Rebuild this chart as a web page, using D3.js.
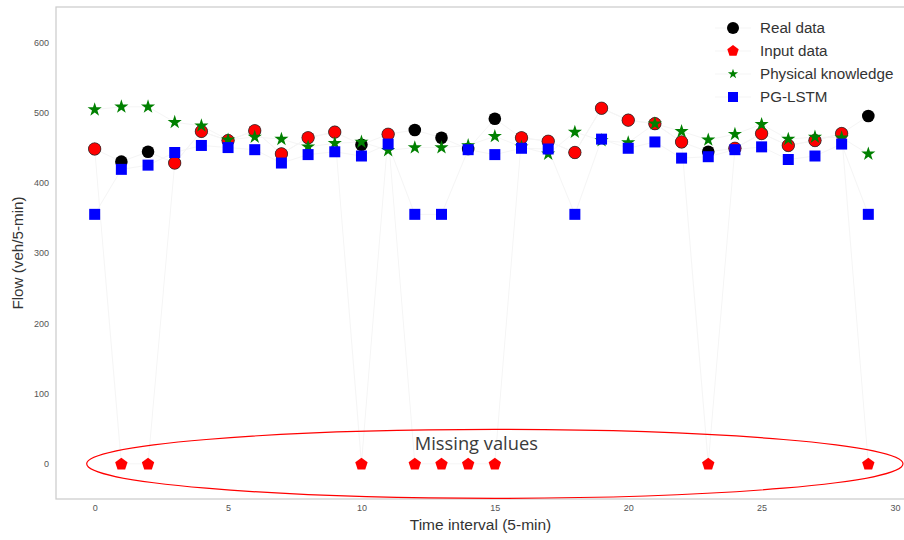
<!DOCTYPE html>
<html>
<head>
<meta charset="utf-8">
<script src="https://cdn.jsdelivr.net/npm/d3@7"></script>
<style>
  html, body { margin: 0; padding: 0; background: #fff; }
  svg { display: block; }
</style>
</head>
<body>
<svg id="chart" width="904" height="540"></svg>
<script>
// Time steps (5-min intervals)
const timeSteps = d3.range(0, 30);

// Observed flow (veh/5-min)
const realData = [448, 430, 444, 428, 473, 460, 474, 441, 464, 472,
                  454, 469, 475, 464, 448, 491, 464, 459, 443, 506,
                  489, 484, 458, 444, 449, 470, 453, 460, 470, 495];

// Indices where the input is missing (recorded as 0)
const missingIdx = [1, 2, 10, 12, 13, 14, 15, 23, 29];

// Input data: observed values with gaps set to 0
const inputData = realData.map((v, i) => missingIdx.includes(i) ? 0 : v);

// Physical-knowledge estimate
const physicalData = [504, 508, 508, 486, 481, 461, 465, 462, 451, 456,
                      458, 446, 450, 450, 453, 466, 451, 441, 472, 460,
                      457, 484, 473, 461, 469, 483, 462, 465, 464, 441];

// PG-LSTM prediction
const pglstmData = [355, 419, 425, 443, 453, 450, 447, 428, 440, 444,
                    438, 455, 355, 355, 447, 440, 449, 448, 355, 462,
                    449, 458, 435, 437, 447, 451, 433, 438, 455, 355];

const xTicks = [0, 5, 10, 15, 20, 25, 30];
const yTicks = [0, 100, 200, 300, 400, 500, 600];

const legendLabels = ["Real data", "Input data", "Physical knowledge", "PG-LSTM"];

const svg = d3.select("#chart");
const plotL = 56, plotR = 907, plotT = 7, plotB = 499;

const x = d3.scaleLinear().domain([-1.45, 30.45]).range([plotL, plotR]);
const y = d3.scaleLinear().domain([-50, 650]).range([plotB, plotT]);

const tickFont = "'Liberation Sans', Arial, sans-serif";
const faint = "#f5f5f5";

// Frame
svg.append("rect")
  .attr("x", plotL).attr("y", plotT)
  .attr("width", plotR - plotL).attr("height", plotB - plotT)
  .attr("fill", "none").attr("stroke", "#cccccc").attr("stroke-width", 1.25);

// Axes (no tick marks, labels only)
const xAxis = svg.append("g")
  .attr("transform", `translate(0,${plotB})`)
  .call(d3.axisBottom(x).tickValues(xTicks).tickSize(0).tickPadding(6));
const yAxis = svg.append("g")
  .attr("transform", `translate(${plotL},0)`)
  .call(d3.axisLeft(y).tickValues(yTicks).tickSize(0).tickPadding(7));
[xAxis, yAxis].forEach(g => {
  g.select(".domain").remove();
  g.selectAll("text")
    .attr("fill", "#555").style("font-family", tickFont).style("font-size", "9px");
});

// Axis titles
svg.append("text")
  .attr("x", (plotL + plotR) / 2 - 1).attr("y", 530)
  .attr("text-anchor", "middle")
  .style("font-family", tickFont).style("font-size", "15.5px").attr("fill", "#333")
  .text("Time interval (5-min)");
svg.append("text")
  .attr("transform", `translate(23,${(plotT + plotB) / 2}) rotate(-90)`)
  .attr("text-anchor", "middle")
  .style("font-family", tickFont).style("font-size", "15.2px").attr("fill", "#333")
  .text("Flow (veh/5-min)");

// Connecting lines for each series (very faint)
const line = d3.line().x((d, i) => x(timeSteps[i])).y(d => y(d));
[realData, inputData, physicalData, pglstmData].forEach(series => {
  svg.append("path").datum(series)
    .attr("d", line).attr("fill", "none")
    .attr("stroke", faint).attr("stroke-width", 1);
});

// Marker shapes
function pentagonPath(r) {
  const pts = d3.range(5).map(k => {
    const a = -Math.PI / 2 + k * 2 * Math.PI / 5;
    return [r * Math.cos(a), r * Math.sin(a)];
  });
  return "M" + pts.map(p => p.join(",")).join("L") + "Z";
}
const starPath = d3.symbol(d3.symbolStar, 62)();
const squarePath = d3.symbol(d3.symbolSquare, 121)();

// Real data
svg.append("g").selectAll("circle").data(realData).join("circle")
  .attr("cx", (d, i) => x(timeSteps[i])).attr("cy", d => y(d))
  .attr("r", 6.3).attr("fill", "#000");

// Input data: circles where observed, pentagons where missing
const inputG = svg.append("g");
inputG.selectAll("circle").data(inputData.map((v, i) => ({v, i})).filter(d => d.v !== 0)).join("circle")
  .attr("cx", d => x(timeSteps[d.i])).attr("cy", d => y(d.v))
  .attr("r", 6.2).attr("fill", "#ff0000").attr("stroke", "#333").attr("stroke-width", 0.7);
inputG.selectAll("path").data(inputData.map((v, i) => ({v, i})).filter(d => d.v === 0)).join("path")
  .attr("d", pentagonPath(6.5))
  .attr("transform", d => `translate(${x(timeSteps[d.i])},${y(d.v) + 0.5})`)
  .attr("fill", "#ff0000");

// Physical knowledge
svg.append("g").selectAll("path").data(physicalData).join("path")
  .attr("d", starPath)
  .attr("transform", (d, i) => `translate(${x(timeSteps[i])},${y(d)})`)
  .attr("fill", "#008000");

// PG-LSTM
svg.append("g").selectAll("path").data(pglstmData).join("path")
  .attr("d", squarePath)
  .attr("transform", (d, i) => `translate(${x(timeSteps[i])},${y(d)})`)
  .attr("fill", "#0000ff");

// Missing-value annotation
svg.append("ellipse")
  .attr("cx", x(15)).attr("cy", y(0))
  .attr("rx", x(15.3) - x(0)).attr("ry", y(0) - y(49))
  .attr("fill", "none").attr("stroke", "#ff0000").attr("stroke-width", 1.2);
svg.append("text")
  .attr("x", x(12)).attr("y", y(20))
  .style("font-family", "'Open Sans', sans-serif").style("font-size", "18.3px")
  .attr("fill", "#3a3a3a")
  .text("Missing values");

// Legend
const legend = svg.append("g");
const legendShapes = [
  g => g.append("circle").attr("r", 6).attr("fill", "#000"),
  g => g.append("path").attr("d", pentagonPath(6)).attr("fill", "#ff0000"),
  g => g.append("path").attr("d", d3.symbol(d3.symbolStar, 32)()).attr("fill", "#008000"),
  g => g.append("path").attr("d", d3.symbol(d3.symbolSquare, 100)()).attr("fill", "#0000ff")
];
legendLabels.forEach((label, k) => {
  const row = legend.append("g").attr("transform", `translate(733,${28 + k * 23})`);
  row.append("line").attr("x1", -18).attr("x2", 18).attr("stroke", faint).attr("stroke-width", 1);
  legendShapes[k](row);
  row.append("text")
    .attr("x", 27).attr("y", 5)
    .style("font-family", tickFont).style("font-size", "15.2px").attr("fill", "#333")
    .text(label);
});
</script>
</body>
</html>
